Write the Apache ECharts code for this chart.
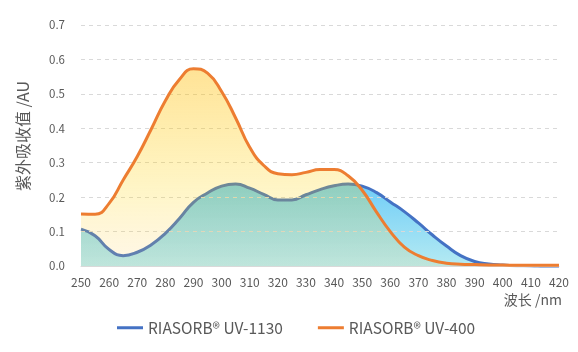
<!DOCTYPE html>
<html>
<head>
<meta charset="utf-8">
<script src="https://cdn.jsdelivr.net/npm/echarts@6/dist/echarts.min.js"></script>
<style>
	html, body { margin: 0; padding: 0; background: #fff; }
	#chart { width: 578px; height: 352px; }
</style>
</head>
<body>
<div id="chart"></div>
<script>
	// 波长 (nm)
	const wavelengths = [250, 255, 260, 265, 270, 275, 280, 285, 290, 295, 300, 305, 310, 315, 320, 325, 330, 335,
		340, 345, 350, 355, 360, 365, 370, 375, 380, 385, 390, 395, 400, 405, 410, 415, 420];

	const uv1130 = [0.107, 0.088, 0.048, 0.030, 0.040, 0.062, 0.095, 0.138, 0.185, 0.212, 0.232, 0.238, 0.226, 0.208,
		0.192, 0.192, 0.207, 0.222, 0.233, 0.238, 0.232, 0.214, 0.186, 0.158, 0.125, 0.090, 0.058, 0.030,
		0.013, 0.006, 0.003, 0.001, 0.0, -0.002, -0.003];

	const uv400 = [0.151, 0.150, 0.182, 0.250, 0.318, 0.398, 0.480, 0.542, 0.573, 0.560, 0.507, 0.430, 0.345, 0.292,
		0.268, 0.265, 0.272, 0.280, 0.280, 0.262, 0.220, 0.158, 0.100, 0.055, 0.030, 0.016, 0.008, 0.005,
		0.004, 0.003, 0.003, 0.002, 0.002, 0.002, 0.002];

	const seriesNames = ["RIASORB® UV-1130", "RIASORB® UV-400"];

	const font = "'Noto Sans CJK SC', 'Noto Sans', sans-serif";

	const chart = echarts.init(document.getElementById("chart"));

	const pairs = arr => wavelengths.map((w, i) => [w, arr[i]]);

	const option = {
		animation: false,
		textStyle: { fontFamily: font },
		grid: { left: 81, right: 19, top: 25, bottom: 86 },
		legend: {
			top: 315,
			left: 112,
			itemGap: 35,
			itemWidth: 26,
			itemHeight: 3,
			icon: "rect",
			textStyle: { fontSize: 15.5, color: "#595959", fontFamily: font },
			data: seriesNames
		},
		xAxis: {
			type: "value",
			min: 250,
			max: 420,
			interval: 10,
			z: 2,
			name: "波长 /nm",
			nameLocation: "end",
			nameGap: 3,
			nameTextStyle: {
				fontSize: 14,
				color: "#595959",
				align: "right",
				verticalAlign: "top",
				padding: [27, 0, 0, 0]
			},
			axisLine: { show: true, lineStyle: { color: "#d9d9d9", width: 1 } },
			axisTick: { show: false },
			axisLabel: { fontSize: 12, color: "#595959", margin: 10 },
			splitLine: { show: false }
		},
		yAxis: {
			type: "value",
			min: 0,
			max: 0.7,
			interval: 0.1,
			z: 2,
			name: "紫外吸收值 /AU",
			nameLocation: "middle",
			nameRotate: 90,
			nameGap: 50,
			nameTextStyle: { fontSize: 16, color: "#595959", padding: [0, 0, 0, 19] },
			axisLine: { show: false },
			axisTick: { show: false },
			axisLabel: {
				fontSize: 11.5,
				color: "#595959",
				margin: 16,
				formatter: v => v.toFixed(1)
			},
			splitLine: { lineStyle: { color: "#d9d9d9", type: [4, 4], width: 1 } }
		},
		series: [
			{
				name: seriesNames[0],
				type: "line",
				z: 1,
				smooth: 0.5,
				symbol: "none",
				data: pairs(uv1130),
				lineStyle: { color: "#4472c4", width: 3 },
				itemStyle: { color: "#4472c4" },
				areaStyle: {
					color: new echarts.graphic.LinearGradient(0, 0, 0, 1, [
						{ offset: 0, color: "rgb(50,183,243)" },
						{ offset: 1, color: "rgb(149,225,236)" }
					])
				}
			},
			{
				name: seriesNames[1],
				type: "line",
				z: 3,
				smooth: 0.5,
				symbol: "none",
				data: pairs(uv400),
				lineStyle: { color: "#ed7d31", width: 3 },
				itemStyle: { color: "#ed7d31" },
				areaStyle: {
					color: new echarts.graphic.LinearGradient(0, 0, 0, 1, [
						{ offset: 0, color: "rgba(255,187,5,0.6)" },
						{ offset: 0.64, color: "rgba(255,211,0,0.3)" },
						{ offset: 1, color: "rgba(255,200,80,0.2)" }
					])
				}
			}
		]
	};

	chart.setOption(option);
</script>
</body>
</html>
